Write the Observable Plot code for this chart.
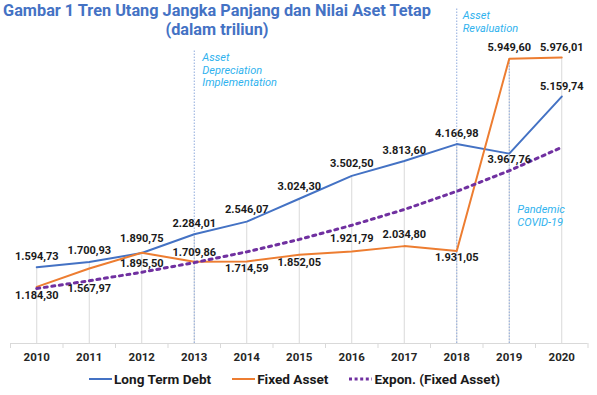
<!DOCTYPE html>
<html>
<head>
<meta charset="utf-8">
<script src="https://cdn.jsdelivr.net/npm/d3@7"></script>
<script src="https://cdn.jsdelivr.net/npm/@observablehq/plot@0.6"></script>
<style>
  body { margin: 0; background: #fff; font-family: Roboto, "Noto Sans", sans-serif; }
  #wrap { position: relative; width: 597px; height: 395px; overflow: hidden; }
  #title { position: absolute; left: -83px; top: 1px; width: 600px; text-align: center; white-space: nowrap; font-weight: 700; font-size: 16.3px; line-height: 19px; color: #4472c4; }
  #legend { position: absolute; left: 89px; top: 370px; height: 18px; display: flex; align-items: center; gap: 21px; font-weight: 700; font-size: 13.6px; color: #1a1a1a; }
  .item { display: flex; align-items: center; gap: 2px; white-space: nowrap; }
  .item svg { display: block; }
</style>
</head>
<body>
<div id="wrap">
  <div id="chart"></div>
  <div id="title">Gambar 1 Tren Utang Jangka Panjang dan Nilai Aset Tetap<br>(dalam triliun)</div>
  <div id="legend"></div>
</div>
<script>
// ---- data ----
const years = [2010, 2011, 2012, 2013, 2014, 2015, 2016, 2017, 2018, 2019, 2020];
const longTermDebt = [1594.73, 1700.93, 1890.75, 2284.01, 2546.07, 3024.30, 3502.50, 3813.60, 4166.98, 3967.76, 5159.74];
const fixedAsset = [1184.30, 1567.97, 1895.50, 1709.86, 1714.59, 1852.05, 1921.79, 2034.80, 1931.05, 5949.60, 5976.01];
const exponFixedAsset = [1150, 1310, 1490, 1690, 1915, 2175, 2470, 2800, 3180, 3610, 4100];
const seriesNames = ["Long Term Debt", "Fixed Asset", "Expon. (Fixed Asset)"];
const annotations = [
  { year: 2013, text: "Asset\nDepreciation\nImplementation", top: 6130 },
  { year: 2018, text: "Asset\nRevaluation", top: 7000 },
  { year: 2019, text: "Pandemic\nCOVID-19", top: 5949.60 }
];

// ---- label placement (pixel offsets, style only) ----
const debtLabelDy = [-11, -12, -15, -11, -12, -12, -12, -11, -11, 6, -10];
const assetLabelDy = [9, 20, 11, -9, 7, 8, -13, -12, 6, -11, -10];
const annotationDy = [43, 1, 195];
const annotationDx = [8, 6, 8];

const colors = { debt: "#4472c4", asset: "#ed7d31", expon: "#7030a0" };
const idFmt = d3.formatLocale({ decimal: ",", thousands: ".", grouping: [3], currency: ["", ""] }).format(",.2f");

const rows = (vals) => years.map((year, i) => ({ year, value: vals[i] }));
const midTicks = d3.range(years.length + 1).map(i => years[0] - 0.5 + i);

function labelMarks(vals, dys) {
  const r = years.map((year, i) => ({ year, value: vals[i], dy: dys[i] }));
  return [...new Set(dys)].map(dy => Plot.text(r.filter(d => d.dy === dy), {
    x: "year", y: "value", text: d => idFmt(d.value), dy,
    fontSize: 11, fontWeight: 700, fill: "#1a1a1a", fontFamily: "Roboto"
  }));
}

const chart = Plot.plot({
  width: 597,
  height: 368,
  marginLeft: 10,
  marginRight: 9.5,
  marginTop: 8,
  marginBottom: 25,
  x: { domain: [years[0] - 0.5, years[years.length - 1] + 0.5], axis: null },
  y: { domain: [0, 7000], axis: null },
  style: { fontFamily: "Roboto", background: "white" },
  marks: [
    // drop lines
    Plot.ruleX(years, { x: d => d, y1: 0, y2: (d, i) => Math.max(longTermDebt[i], fixedAsset[i]), stroke: "#d9d9d9", strokeWidth: 1 }),
    // annotation lines
    Plot.ruleX(annotations, { x: "year", y1: 0, y2: "top", stroke: "#8faadc", strokeWidth: 1, strokeDasharray: "1.5 1.5" }),
    // baseline and ticks
    Plot.ruleY([0], { stroke: "#d9d9d9" }),
    Plot.ruleX(midTicks, { x: d => d, y1: 0, y2: 0, insetBottom: -5, stroke: "#d9d9d9" }),
    Plot.text(years, { x: d => d, y: 0, dy: 14, text: d => String(d), fontSize: 11.5, fontWeight: 700, fill: "#262626" }),
    // annotation texts
    ...annotations.map((a, i) => Plot.text([a], {
      x: "year", frameAnchor: "top", text: "text", textAnchor: "start", lineAnchor: "top",
      dx: annotationDx[i], dy: annotationDy[i], fontSize: 11, fontStyle: "italic", fill: "#2fb2ee", lineHeight: 1.17
    })),
    // series
    Plot.line(rows(longTermDebt), { x: "year", y: "value", stroke: colors.debt, strokeWidth: 2 }),
    Plot.line(rows(fixedAsset), { x: "year", y: "value", stroke: colors.asset, strokeWidth: 2 }),
    Plot.line(rows(exponFixedAsset), { x: "year", y: "value", stroke: colors.expon, strokeWidth: 3, strokeDasharray: "3 4.6" }),
    ...labelMarks(longTermDebt, debtLabelDy),
    ...labelMarks(fixedAsset, assetLabelDy)
  ]
});
document.getElementById("chart").appendChild(chart);

// legend
const legendStyles = [
  { color: colors.debt, dash: null, width: 2 },
  { color: colors.asset, dash: null, width: 2 },
  { color: colors.expon, dash: "3 2.6", width: 3 }
];
const legend = document.getElementById("legend");
seriesNames.forEach((name, i) => {
  const s = legendStyles[i];
  const item = document.createElement("div");
  item.className = "item";
  item.innerHTML = `<svg width="23" height="6"><line x1="0" x2="23" y1="3" y2="3" stroke="${s.color}" stroke-width="${s.width}" ${s.dash ? `stroke-dasharray="${s.dash}"` : ""}/></svg><span>${name}</span>`;
  legend.appendChild(item);
});
</script>
</body>
</html>
